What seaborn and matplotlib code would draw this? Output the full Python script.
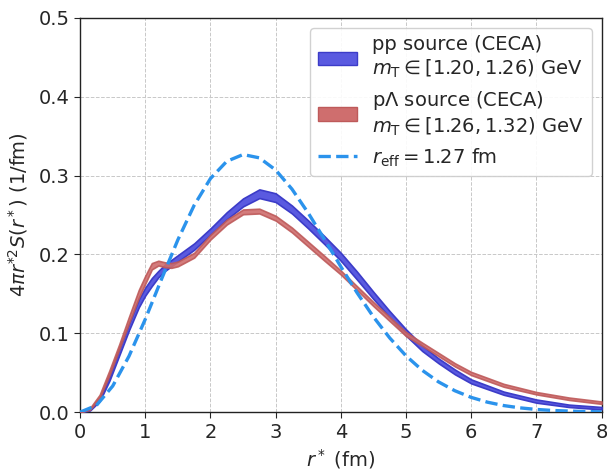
import numpy as np
import matplotlib
matplotlib.use('Agg')
import matplotlib.pyplot as plt
import seaborn as sns
from matplotlib.patches import Patch
from matplotlib.lines import Line2D

# r* grid (fm) on which the CECA sources are read
r_ceca = [0.0, 0.15, 0.3, 0.45, 0.6, 0.75, 0.9, 1.0, 1.1, 1.2, 1.3, 1.4, 1.5,
          1.75, 2.0, 2.25, 2.5, 2.75, 3.0, 3.25, 3.5, 3.75, 4.0, 4.25, 4.5,
          4.75, 5.0, 5.25, 5.5, 5.75, 6.0, 6.5, 7.0, 7.5, 8.0]

# pp source, central value and half width of the band
pp_mid = [0.0, 0.003, 0.016, 0.043, 0.076, 0.108, 0.138, 0.153, 0.165, 0.175,
          0.183, 0.189, 0.195, 0.210, 0.229, 0.249, 0.266, 0.277, 0.272, 0.257,
          0.238, 0.218, 0.197, 0.173, 0.148, 0.124, 0.101, 0.081, 0.065, 0.051,
          0.039, 0.024, 0.014, 0.008, 0.005]
pp_err = [0.0, 0.001, 0.002, 0.003, 0.004, 0.004, 0.005, 0.005, 0.005, 0.004,
          0.004, 0.004, 0.004, 0.004, 0.004, 0.0045, 0.005, 0.0055, 0.0055, 0.005,
          0.005, 0.005, 0.005, 0.005, 0.0045, 0.004, 0.004, 0.0035, 0.003, 0.003,
          0.0025, 0.002, 0.002, 0.0015, 0.0015]

# pLambda source
pl_mid = [0.0, 0.004, 0.020, 0.050, 0.083, 0.117, 0.150, 0.168, 0.185, 0.189,
          0.187, 0.186, 0.188, 0.199, 0.222, 0.241, 0.254, 0.255, 0.246, 0.231,
          0.213, 0.195, 0.177, 0.157, 0.137, 0.118, 0.099, 0.086, 0.073, 0.060,
          0.049, 0.034, 0.024, 0.017, 0.012]
pl_err = [0.0, 0.001, 0.002, 0.003, 0.003, 0.004, 0.005, 0.005, 0.004, 0.003,
          0.003, 0.003, 0.003, 0.003, 0.003, 0.003, 0.003, 0.003, 0.003, 0.003,
          0.003, 0.003, 0.0025, 0.0025, 0.0025, 0.0025, 0.0025, 0.002, 0.002, 0.002,
          0.002, 0.0018, 0.0015, 0.0015, 0.0015]

# gaussian source with r_eff = 1.27 fm
r_gaus = [0.0, 0.25, 0.5, 0.75, 1.0, 1.25, 1.5, 1.75, 2.0, 2.25, 2.5, 2.75,
          3.0, 3.25, 3.5, 3.75, 4.0, 4.25, 4.5, 4.75, 5.0, 5.25, 5.5, 5.75,
          6.0, 6.25, 6.5, 6.75, 7.0, 7.25, 7.5, 7.75, 8.0]
gaus = [0.0, 0.0085, 0.0331, 0.0710, 0.1179, 0.1689, 0.2186, 0.2624, 0.2963,
        0.3181, 0.3267, 0.3225, 0.3071, 0.2829, 0.2525, 0.2190, 0.1845, 0.1513,
        0.1208, 0.0941, 0.0714, 0.0530, 0.0383, 0.0271, 0.0187, 0.0126, 0.0083,
        0.0054, 0.0034, 0.0021, 0.0013, 0.0007, 0.0004]

sns.set_style('ticks')
plt.rcParams['font.family'] = ['DejaVu Sans']
plt.rcParams['mathtext.fontset'] = 'dejavusans'

fig = plt.figure(figsize=(6.07, 4.71), dpi=100)
ax = fig.add_axes([0.132, 0.125, 0.859, 0.837])

r = np.array(r_ceca)
pp_m, pp_e = np.array(pp_mid), np.array(pp_err)
pl_m, pl_e = np.array(pl_mid), np.array(pl_err)

blue_face, blue_edge = '#5a5ae0', '#3c3cc8'
red_face, red_edge = '#cf6e6e', '#be5a5a'

ax.fill_between(r, pp_m - pp_e, pp_m + pp_e, facecolor=blue_face,
                edgecolor=blue_edge, lw=1.2, zorder=3)
ax.fill_between(r, pl_m - pl_e, pl_m + pl_e, facecolor=red_face,
                edgecolor=red_edge, lw=1.2, alpha=0.9, zorder=4)
sns.lineplot(x=r_gaus, y=gaus, ax=ax, color='#2b93ec', lw=2.4,
             linestyle='--', zorder=5)

ax.set_xlim(0, 8)
ax.set_ylim(0, 0.5)
ax.set_xticks(range(0, 9))
ax.set_yticks([0.0, 0.1, 0.2, 0.3, 0.4, 0.5])
ax.tick_params(labelsize=14, direction='out', length=4)
ax.grid(True, ls='--', color='#c8c8c8', lw=0.7)
for s in ax.spines.values():
    s.set_color('#222222')
    s.set_linewidth(1.0)

ax.set_xlabel(r'$r^*$ (fm)', fontsize=14, labelpad=4)
ax.set_ylabel(r'$4\pi r^{*2}S(r^*)$ (1/fm)', fontsize=14, labelpad=6)

handles = [
    Patch(facecolor=blue_face, edgecolor=blue_edge),
    Patch(facecolor=red_face, edgecolor=red_edge),
    Line2D([], [], color='#2b93ec', lw=2.4, ls='--'),
]
labels = [
    'pp source (CECA)\n' + r'$m_\mathrm{T} \in [1.20, 1.26)$ GeV',
    r'p$\Lambda$ source (CECA)' + '\n' + r'$m_\mathrm{T} \in [1.26, 1.32)$ GeV',
    r'$r_\mathrm{eff} = 1.27$ fm',
]
ax.legend(handles, labels, loc='upper right', fontsize=14, frameon=True,
          framealpha=0.9, edgecolor='#cccccc', handlelength=2.0,
          labelspacing=0.45, borderaxespad=0.5)

fig.savefig('out.png', dpi=100)
